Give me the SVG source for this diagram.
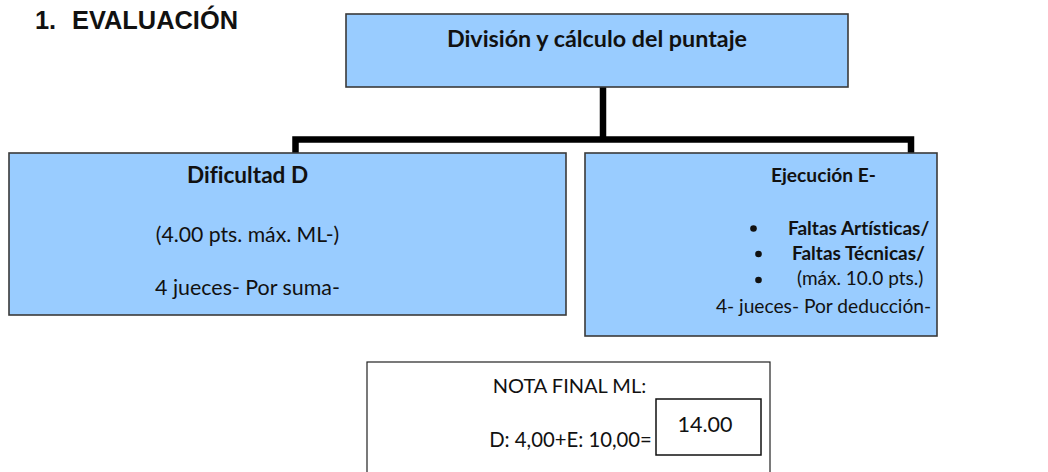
<svg xmlns="http://www.w3.org/2000/svg" width="1048" height="472" viewBox="0 0 1048 472">
<style>
.box{fill:#99CCFF;stroke:#3a3a3a;stroke-width:1.6}
.t{font-family:Lato,"Open Sans",sans-serif;fill:#111;font-variant-ligatures:none;font-feature-settings:"liga" 0,"clig" 0}
.b{font-weight:bold}
.c{text-anchor:middle}
.conn{fill:none;stroke:#000;stroke-width:6.5;stroke-linejoin:miter}
</style>
<rect width="1048" height="472" fill="#fff"/>
<text x="35" y="29" font-family="'Liberation Sans',Arial,sans-serif" font-weight="bold" font-size="25.4" fill="#111">1.</text>
<text x="72" y="29" font-family="'Liberation Sans',Arial,sans-serif" font-weight="bold" font-size="25.4" fill="#111">EVALUACIÓN</text>
<g id="connectors">
<path class="conn" d="M295.5,153 V139.5 H911 V153"/>
<path class="conn" d="M603,87 V139.5"/>
</g>
<g id="top">
<rect class="box" x="346" y="14" width="502" height="73"/>
<text class="t b c" x="597" y="47" font-size="23.3">División y cálculo del puntaje</text>
</g>
<g id="dificultad">
<rect class="box" x="9" y="153" width="557" height="162"/>
<text class="t b c" x="247.5" y="183" font-size="22.6">Dificultad D</text>
<text class="t c" x="247.5" y="242" font-size="21.2">(4.00 pts. máx. ML-)</text>
<text class="t c" x="247.5" y="295" font-size="21.4">4 jueces- Por suma-</text>
</g>
<g id="ejecucion">
<rect class="box" x="585" y="153" width="352" height="183"/>
<text class="t b c" x="823.5" y="182" font-size="19.2">Ejecución E-</text>
<circle cx="753.5" cy="228.5" r="3.3" fill="#111"/>
<text class="t b" x="788" y="235" font-size="19">Faltas Artísticas/</text>
<circle cx="758.5" cy="254" r="3.3" fill="#111"/>
<text class="t b" x="792" y="260" font-size="19">Faltas Técnicas/</text>
<circle cx="758.5" cy="280" r="3.3" fill="#111"/>
<text class="t" x="797" y="285" font-size="19">(máx. 10.0 pts.)</text>
<text class="t c" x="823.5" y="313" font-size="19.2">4- jueces- Por deducción-</text>
</g>
<g id="nota">
<rect x="367" y="362" width="403" height="120" fill="#fff" stroke="#222" stroke-width="1.2"/>
<text class="t c" x="569.5" y="393" font-size="20">NOTA FINAL ML:</text>
<text class="t c" x="570.5" y="447" font-size="20.3">D: 4,00+E: 10,00=</text>
<rect x="656" y="399" width="105" height="56" fill="#fff" stroke="#111" stroke-width="1.5"/>
<text class="t c" x="705" y="432" font-size="21.5">14.00</text>
</g>
</svg>
